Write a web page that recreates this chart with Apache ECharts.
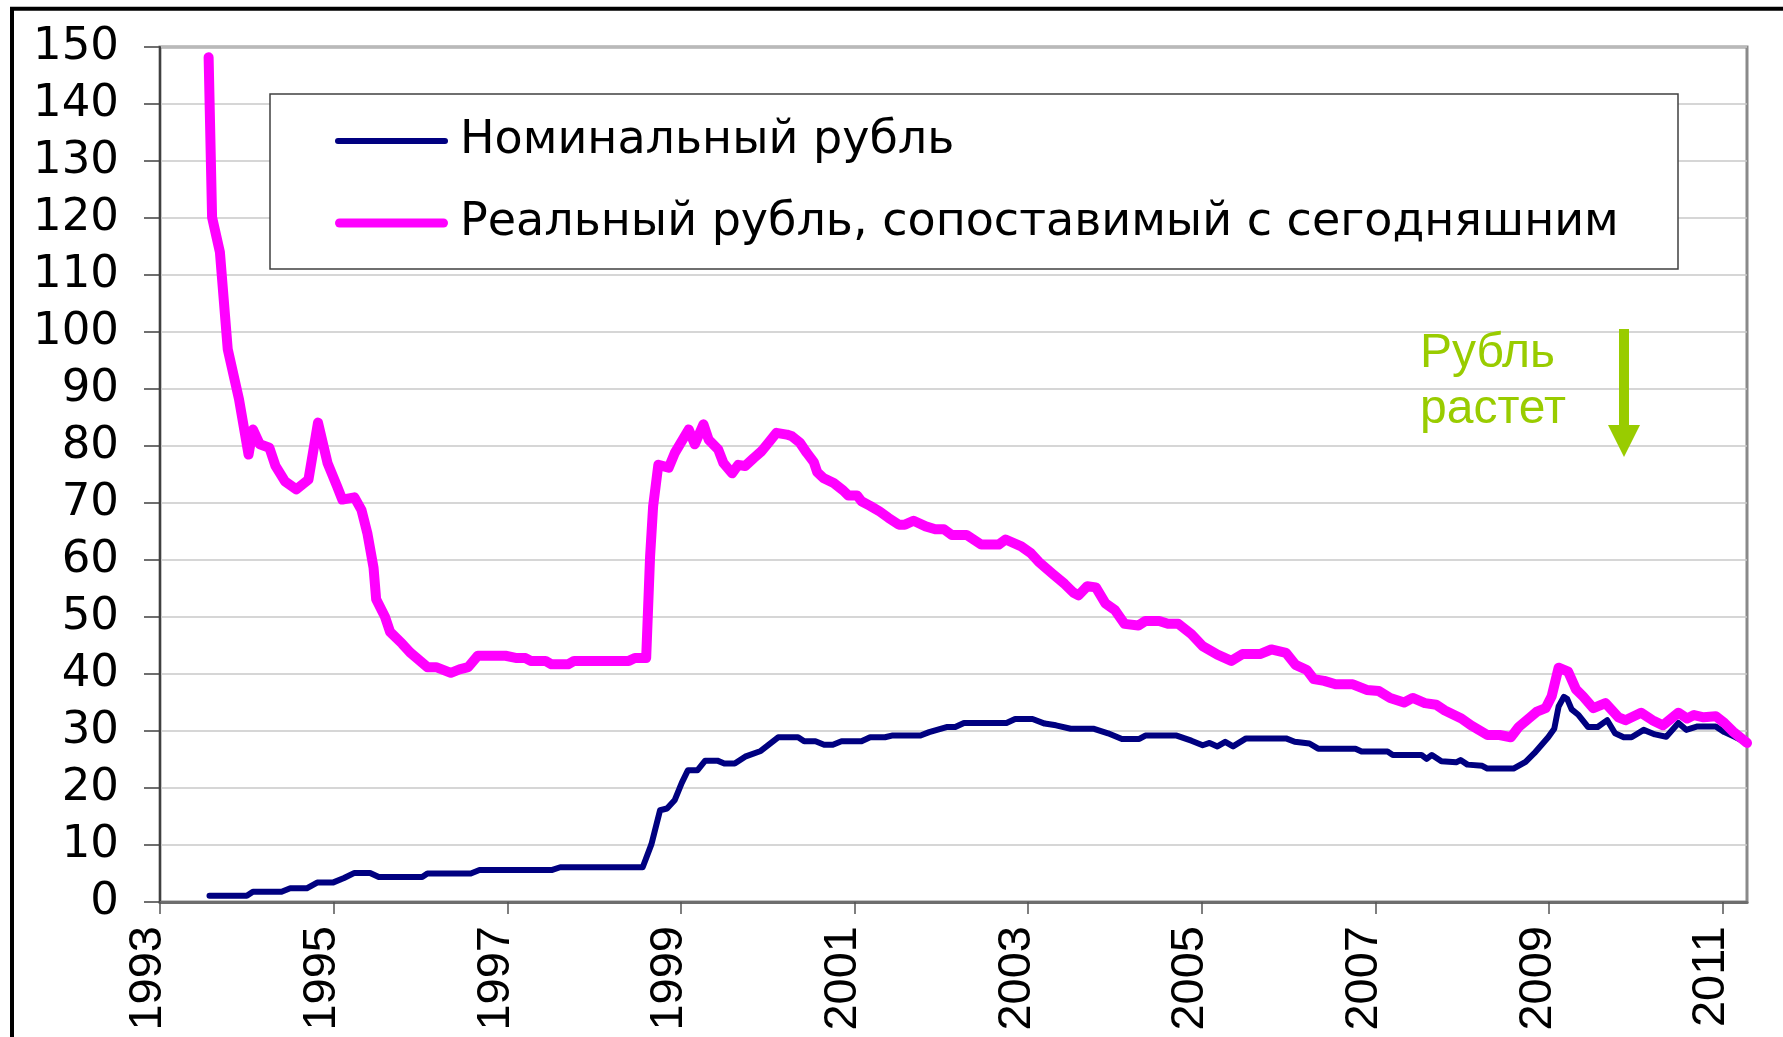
<!DOCTYPE html>
<html>
<head>
<meta charset="utf-8">
<script src="https://cdn.jsdelivr.net/npm/echarts@6/dist/echarts.min.js"></script>
<style>
  html, body { margin: 0; padding: 0; background: #fff; }
  #chart { width: 1783px; height: 1037px; }
</style>
</head>
<body>
<div id="chart"></div>
<script>
// ---- Data (decimal years, values) ----
const seriesNames = ['Номинальный рубль', 'Реальный рубль, сопоставимый с сегодняшним'];
const yearTicks = [1993, 1995, 1997, 1999, 2001, 2003, 2005, 2007, 2009, 2011];
const annotationLines = ['Рубль', 'растет'];

const nominalYears = [
  1993.57, 1994.00, 1994.07, 1994.40, 1994.50, 1994.69, 1994.81, 1994.99, 1995.12, 1995.24,
  1995.42, 1995.52, 1996.02, 1996.08, 1996.58, 1996.68, 1997.51, 1997.61, 1998.56, 1998.66,
  1998.76, 1998.84, 1998.93, 1999.01, 1999.08, 1999.19, 1999.28, 1999.42, 1999.50, 1999.62,
  1999.74, 1999.92, 2000.12, 2000.35, 2000.42, 2000.55, 2000.65, 2000.75, 2000.85, 2001.08,
  2001.18, 2001.35, 2001.43, 2001.76, 2001.86, 2002.06, 2002.16, 2002.26, 2002.75, 2002.85,
  2003.05, 2003.19, 2003.32, 2003.49, 2003.75, 2003.92, 2004.08, 2004.28, 2004.35, 2004.71,
  2004.88, 2005.01, 2005.09, 2005.18, 2005.27, 2005.36, 2005.51, 2005.97, 2006.07, 2006.24,
  2006.34, 2006.77, 2006.84, 2007.14, 2007.20, 2007.53, 2007.59, 2007.65, 2007.76, 2007.93,
  2007.98, 2008.06, 2008.23, 2008.29, 2008.59, 2008.73, 2008.83, 2008.99, 2009.06, 2009.11,
  2009.17, 2009.21, 2009.26, 2009.34, 2009.45, 2009.56, 2009.67, 2009.76, 2009.86, 2009.95,
  2010.09, 2010.22, 2010.35, 2010.49, 2010.58, 2010.71, 2010.92, 2011.02, 2011.15, 2011.28
];
const nominalValues = [
  1.1, 1.1, 1.8, 1.8, 2.4, 2.4, 3.4, 3.4, 4.2, 5.1,
  5.1, 4.4, 4.4, 5.0, 5.0, 5.6, 5.6, 6.1, 6.1, 10.1,
  16.1, 16.4, 17.9, 20.9, 23.1, 23.1, 24.8, 24.8, 24.3, 24.3,
  25.5, 26.5, 28.9, 28.9, 28.2, 28.2, 27.6, 27.6, 28.2, 28.2,
  28.9, 28.9, 29.2, 29.2, 29.8, 30.7, 30.7, 31.4, 31.4, 32.1,
  32.1, 31.3, 31.0, 30.4, 30.4, 29.6, 28.6, 28.6, 29.2, 29.2,
  28.3, 27.5, 27.9, 27.3, 28.1, 27.3, 28.7, 28.7, 28.1, 27.8,
  26.9, 26.9, 26.4, 26.4, 25.8, 25.8, 25.1, 25.8, 24.7, 24.5,
  24.9, 24.1, 23.9, 23.4, 23.4, 24.6, 26.1, 28.9, 30.4, 34.3,
  36.0, 35.6, 33.8, 32.8, 30.7, 30.7, 31.9, 29.6, 28.9, 28.9,
  30.2, 29.4, 29.0, 31.4, 30.2, 30.8, 30.8, 29.8, 28.9, 27.9
];

const realYears = [
  1993.56, 1993.60, 1993.69, 1993.78, 1993.91, 1994.02, 1994.07, 1994.15, 1994.26, 1994.33,
  1994.44, 1994.57, 1994.71, 1994.82, 1994.93, 1995.04, 1995.10, 1995.24, 1995.32, 1995.39,
  1995.46, 1995.49, 1995.59, 1995.65, 1995.79, 1995.88, 1996.08, 1996.18, 1996.35, 1996.45,
  1996.55, 1996.66, 1996.98, 1997.11, 1997.21, 1997.27, 1997.44, 1997.51, 1997.70, 1997.77,
  1998.40, 1998.47, 1998.60, 1998.645, 1998.68, 1998.74, 1998.86, 1998.93, 1999.09, 1999.16,
  1999.26, 1999.32, 1999.43, 1999.49, 1999.59, 1999.66, 1999.74, 1999.84, 1999.93, 2000.01,
  2000.10, 2000.22, 2000.28, 2000.37, 2000.45, 2000.53, 2000.57, 2000.64, 2000.76, 2000.87,
  2000.93, 2001.03, 2001.08, 2001.18, 2001.29, 2001.39, 2001.51, 2001.58, 2001.68, 2001.82,
  2001.93, 2002.03, 2002.12, 2002.29, 2002.46, 2002.66, 2002.74, 2002.92, 2003.03, 2003.12,
  2003.28, 2003.42, 2003.52, 2003.58, 2003.68, 2003.78, 2003.89, 2004.00, 2004.11, 2004.27,
  2004.35, 2004.51, 2004.61, 2004.73, 2004.88, 2005.01, 2005.18, 2005.34, 2005.47, 2005.67,
  2005.80, 2005.97, 2006.08, 2006.21, 2006.29, 2006.41, 2006.54, 2006.74, 2006.90, 2007.04,
  2007.17, 2007.33, 2007.43, 2007.57, 2007.70, 2007.80, 2007.99, 2008.10, 2008.29, 2008.43,
  2008.56, 2008.65, 2008.79, 2008.86, 2008.96, 2009.03, 2009.11, 2009.22, 2009.31, 2009.39,
  2009.51, 2009.65, 2009.80, 2009.88, 2010.06, 2010.19, 2010.31, 2010.49, 2010.59, 2010.67,
  2010.78, 2010.92, 2011.02, 2011.12, 2011.28
];
const realValues = [
  148.2, 120.1, 114.0, 97.0, 88.2, 78.5, 82.9, 80.3, 79.7, 76.5,
  73.8, 72.4, 74.1, 84.1, 77.0, 72.9, 70.6, 71.0, 68.8, 64.6,
  58.6, 53.1, 50.1, 47.4, 45.3, 43.8, 41.2, 41.2, 40.2, 40.8,
  41.2, 43.2, 43.2, 42.8, 42.8, 42.3, 42.3, 41.7, 41.7, 42.3,
  42.3, 42.8, 42.8, 60.6, 69.4, 76.7, 76.2, 78.8, 82.9, 80.3,
  83.8, 81.1, 79.4, 77.0, 75.2, 76.7, 76.5, 77.9, 79.1, 80.6,
  82.3, 82.0, 81.7, 80.6, 78.8, 77.2, 75.4, 74.4, 73.5, 72.2,
  71.3, 71.3, 70.3, 69.5, 68.5, 67.4, 66.2, 66.2, 66.9, 65.9,
  65.4, 65.4, 64.4, 64.4, 62.7, 62.7, 63.6, 62.4, 61.2, 59.7,
  57.6, 55.8, 54.3, 53.8, 55.4, 55.2, 52.4, 51.2, 48.8, 48.5,
  49.3, 49.3, 48.8, 48.8, 47.0, 44.9, 43.4, 42.3, 43.5, 43.5,
  44.3, 43.7, 41.6, 40.7, 39.1, 38.8, 38.2, 38.2, 37.2, 37.0,
  35.8, 35.0, 35.8, 34.9, 34.6, 33.6, 32.2, 31.0, 29.3, 29.3,
  28.9, 30.7, 32.5, 33.4, 34.0, 36.1, 41.1, 40.4, 37.3, 36.1,
  34.0, 34.9, 32.4, 31.9, 33.2, 31.9, 31.0, 33.2, 32.2, 32.8,
  32.4, 32.6, 31.4, 29.9, 27.9
];

function pairs(xs, ys) { return xs.map((x, i) => [x, ys[i]]); }

const chart = echarts.init(document.getElementById('chart'), null, { renderer: 'canvas' });

const option = {
  backgroundColor: '#ffffff',
  animation: false,
  grid: {
    left: 160, top: 47, right: 36, bottom: 135,
    show: true, borderColor: '#8a8a8a', borderWidth: 3, backgroundColor: '#ffffff'
  },
  legend: {
    orient: 'vertical',
    left: 335, top: 118,
    padding: 0,
    itemGap: 36,
    itemWidth: 113,
    itemHeight: 46,
    z: 5,
    selectedMode: false,
    symbolKeepAspect: true,
    data: [
      { name: seriesNames[0],
        icon: 'path://M3,0 L110,0 A3,3 0 0 1 110,6 L3,6 A3,3 0 0 1 3,0 Z' },
      { name: seriesNames[1],
        icon: 'path://M4.5,0 L108.5,0 A4.5,4.5 0 0 1 108.5,9 L4.5,9 A4.5,4.5 0 0 1 4.5,0 Z' }
    ],
    textStyle: {
      fontFamily: 'DejaVu Sans', fontSize: 46, lineHeight: 46, color: '#000',
      padding: [0, 0, 0, 7]
    }
  },
  xAxis: {
    type: 'value',
    min: 1993, max: 2011.28,
    splitLine: { show: false },
    axisLine: { lineStyle: { color: '#6e6e6e', width: 3 } },
    axisTick: {
      show: true, customValues: yearTicks, length: 12,
      lineStyle: { color: '#555', width: 1.5 }
    },
    axisLabel: {
      customValues: yearTicks,
      rotate: 90, margin: 24,
      fontFamily: 'Liberation Sans', fontSize: 47, color: '#000',
      verticalAlign: 'bottom', lineHeight: 23,
      formatter: v => String(Math.round(v))
    }
  },
  yAxis: {
    type: 'value',
    min: 0, max: 150, interval: 10,
    axisLine: { show: true, lineStyle: { color: '#404040', width: 2 } },
    axisTick: { show: true, length: 16, lineStyle: { color: '#404040', width: 1.5 } },
    axisLabel: { margin: 41, fontFamily: 'DejaVu Sans', fontSize: 45, color: '#000' },
    splitLine: { lineStyle: { color: '#c8c8c8', width: 1.5 } }
  },
  series: [
    {
      name: seriesNames[0], type: 'line', symbol: 'none',
      data: pairs(nominalYears, nominalValues),
      lineStyle: { color: '#000080', width: 6, cap: 'round', join: 'round' },
      itemStyle: { color: '#000080' }
    },
    {
      name: seriesNames[1], type: 'line', symbol: 'none',
      data: pairs(realYears, realValues),
      lineStyle: { color: '#ff00ff', width: 10, cap: 'round', join: 'round' },
      itemStyle: { color: '#ff00ff' }
    }
  ],
  graphic: [
    {
      type: 'rect', z: 3, silent: true,
      shape: { x: 270, y: 94, width: 1408, height: 175 },
      style: { fill: '#ffffff', stroke: '#404040', lineWidth: 1.5 }
    },
    {
      type: 'rect', z: 10, silent: true,
      shape: { x: 12, y: 8.7, width: 1900, height: 1200 },
      style: { fill: 'none', stroke: '#000000', lineWidth: 4 }
    },
    {
      type: 'text', z: 10, silent: true,
      style: {
        x: 1420, y: 354, text: annotationLines[0],
        fontFamily: 'Liberation Sans', fontSize: 48, fill: '#99cc00',
        textAlign: 'left', textVerticalAlign: 'middle'
      }
    },
    {
      type: 'text', z: 10, silent: true,
      style: {
        x: 1420, y: 410, text: annotationLines[1],
        fontFamily: 'Liberation Sans', fontSize: 48, fill: '#99cc00',
        textAlign: 'left', textVerticalAlign: 'middle'
      }
    },
    {
      type: 'rect', z: 10, silent: true,
      shape: { x: 1619, y: 329, width: 10, height: 97 },
      style: { fill: '#99cc00' }
    },
    {
      type: 'polygon', z: 10, silent: true,
      shape: { points: [[1608, 425], [1640, 425], [1624, 457]] },
      style: { fill: '#99cc00' }
    }
  ]
};

chart.setOption(option);
</script>
</body>
</html>
